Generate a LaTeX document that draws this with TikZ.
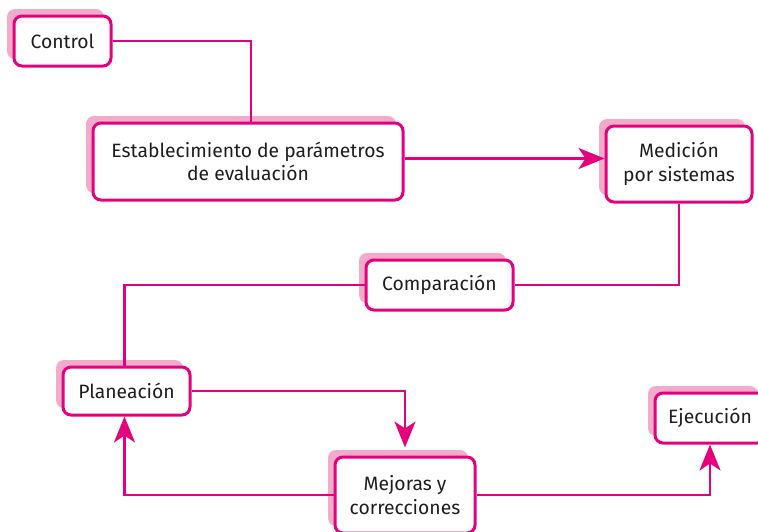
\documentclass[tikz,border=0pt]{standalone}
\usepackage{fontspec}
\setmainfont{Fira Sans}
\usepackage{tikz}
\usetikzlibrary{arrows.meta,shadows}
\definecolor{magenta}{HTML}{E5007D}
\definecolor{softpink}{HTML}{F2ABCB}
\definecolor{ink}{HTML}{1E1E1E}
\tikzset{
	box/.style={draw=magenta, line width=3pt, fill=white, rounded corners=8pt, align=center, text=ink, inner sep=2pt,
		font=\fontsize{19.3}{23.5}\selectfont,
		drop shadow={shadow xshift=-7pt, shadow yshift=7pt, fill=softpink, opacity=1}},
	link/.style={draw=magenta, line width=2.5pt},
	arr/.style={link, -{Stealth[length=26pt, width=21pt, inset=7pt]}}
}

\begin{document}
\begin{tikzpicture}[x=1pt, y=1pt]
		%%%%% START %%%%%
		\useasboundingbox (0, 0) rectangle (758, -531);
		
		\node[box, minimum width=97, minimum height=50] (ctrl) at (62.5, -41) {Control};
		\node[box, minimum width=310, minimum height=77] (est) at (248, -161.5) {Establecimiento de parámetros\\de evaluación};
		\node[box, minimum width=146, minimum height=76] (med) at (679, -164) {Medición\\por sistemas};
		\node[box, minimum width=147, minimum height=50] (comp) at (439.5, -285) {Comparación};
		\node[box, minimum width=127, minimum height=48] (plan) at (126.5, -391) {Planeación};
		\node[box, minimum width=140, minimum height=76] (mej) at (405, -495) {Mejoras y\\correcciones};
		\node[box, minimum width=110, minimum height=50] (ejec) at (710, -418) {Ejecución};
		
		\draw[link] (ctrl.east) -| ([xshift=3]est.north);
		\draw[arr] ([yshift=3]est.east) -- ([yshift=3]est.east -| med.west);
		\draw[link] (med.south) |- (comp.east);
		\draw[link] (comp.west) -| ([xshift=-2]plan.north);
		\draw[arr] (plan.east) -| ([yshift=8]mej.north);
		\draw[arr] (mej.west) -| ([xshift=-2]plan.south);
		\draw[arr] (mej.east) -| (ejec.south);
		
		%%%%% END %%%%%
	\end{tikzpicture}
\end{document}
